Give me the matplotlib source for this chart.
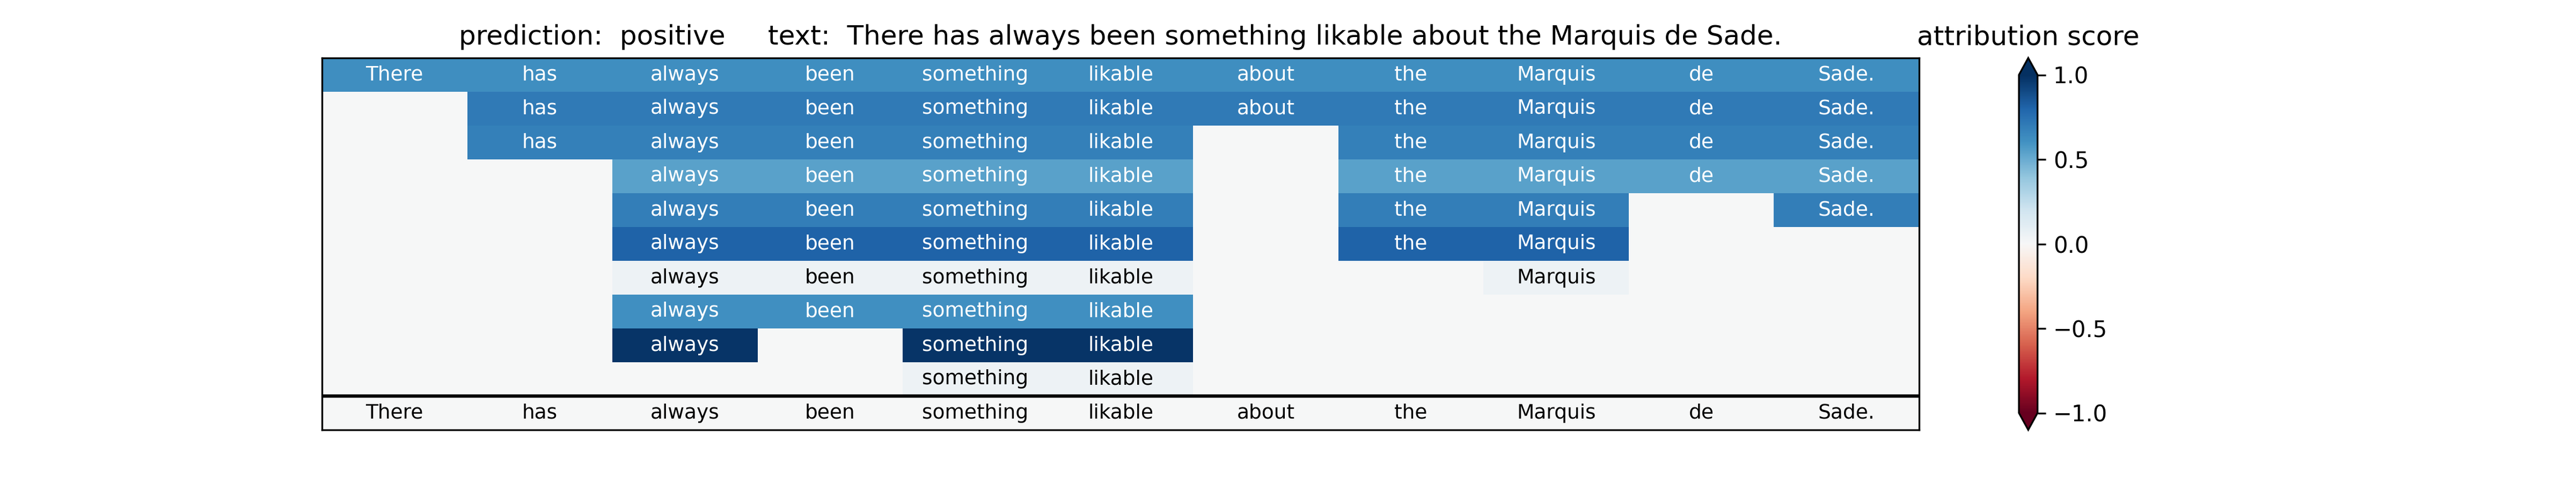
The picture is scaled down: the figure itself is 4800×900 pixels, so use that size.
import numpy as np
import matplotlib
matplotlib.use("Agg")
import matplotlib.pyplot as plt

tokens = ["There", "has", "always", "been", "something", "likable",
          "about", "the", "Marquis", "de", "Sade."]

# columns (token indices) covered in each hierarchy row, top to bottom
row_cols = [
    [0, 1, 2, 3, 4, 5, 6, 7, 8, 9, 10],
    [1, 2, 3, 4, 5, 6, 7, 8, 9, 10],
    [1, 2, 3, 4, 5, 7, 8, 9, 10],
    [2, 3, 4, 5, 7, 8, 9, 10],
    [2, 3, 4, 5, 7, 8, 10],
    [2, 3, 4, 5, 7, 8],
    [2, 3, 4, 5, 8],
    [2, 3, 4, 5],
    [2, 4, 5],
    [4, 5],
]
# attribution score of each hierarchy row
row_scores = [0.62, 0.71, 0.68, 0.54, 0.69, 0.81, 0.05, 0.61, 0.98, 0.05]

prediction = "positive"
sentence = "There has always been something likable about the Marquis de Sade."

n_cols = len(tokens)
n_rows = len(row_cols) + 1
scores = np.zeros((n_rows, n_cols))
labels = [["" for _ in range(n_cols)] for _ in range(n_rows)]
for r, (cols, s) in enumerate(zip(row_cols, row_scores)):
    for c in cols:
        scores[r, c] = s
        labels[r][c] = tokens[c]
for c in range(n_cols):
    labels[n_rows - 1][c] = tokens[c]

fig, ax = plt.subplots(figsize=(16, 3), dpi=300)
mesh = ax.pcolormesh(scores, cmap="RdBu", vmin=-1, vmax=1)
ax.set_xlim(0, n_cols)
ax.set_ylim(n_rows, 0)
ax.set_xticks([])
ax.set_yticks([])

for r in range(n_rows):
    for c in range(n_cols):
        if labels[r][c]:
            color = "white" if scores[r, c] > 0.4 else "black"
            ax.text(c + 0.5, r + 0.5, labels[r][c], ha="center", va="center",
                    fontsize=9, color=color)

ax.axhline(n_rows - 1, color="black", linewidth=1.5)

ax.set_title("prediction:  " + prediction + "     text:  " + sentence, fontsize=12)

cbar = fig.colorbar(mesh, ax=ax, extend="both")
cbar.ax.set_title("attribution score", fontsize=12)

fig.savefig("out.png", dpi=300)
